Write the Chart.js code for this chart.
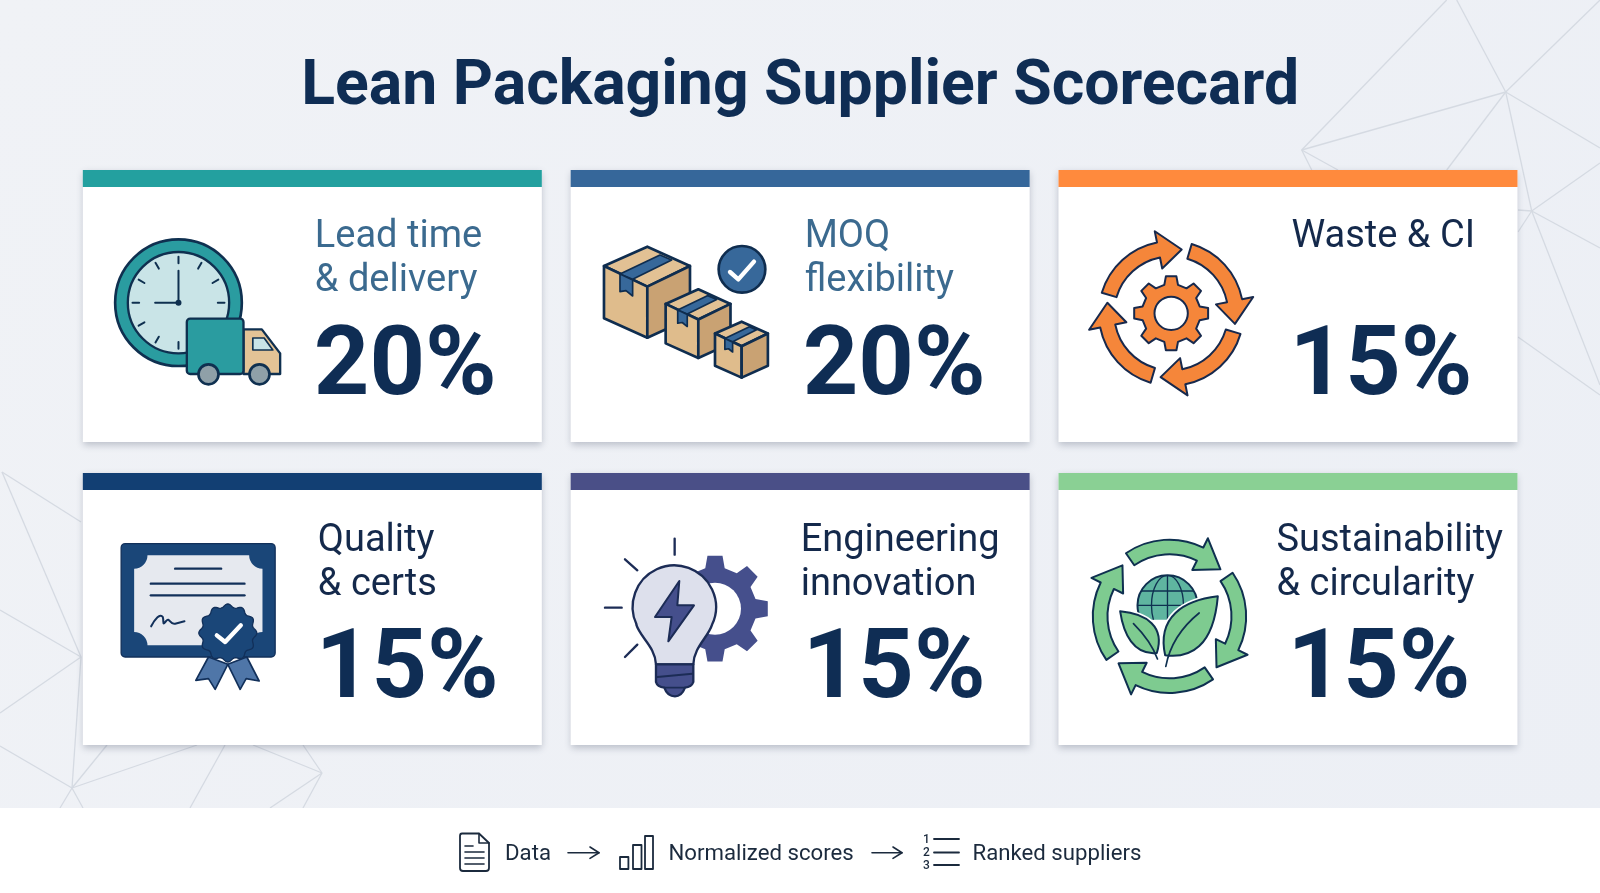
<!DOCTYPE html>
<html><head><meta charset="utf-8">
<style>html,body{margin:0;padding:0;background:#eef1f6;overflow:hidden}canvas{display:block}</style>
<script src="https://cdn.jsdelivr.net/npm/chart.js@4/dist/chart.umd.min.js"></script>
</head><body><canvas id="c" width="1600" height="893"></canvas>
<script>
const chartTitle = "Lean Packaging Supplier Scorecard";
const categories = ["Lead time & delivery","MOQ flexibility","Waste & CI","Quality & certs","Engineering innovation","Sustainability & circularity"];
const weights = [20,20,15,15,15,15];
const labelLines = [["Lead time","& delivery"],["MOQ","flexibility"],["Waste & CI"],["Quality","& certs"],["Engineering","innovation"],["Sustainability","& circularity"]];
const columns = ["left","middle","right","left","middle","right"];
const rows = ["top","top","top","bottom","bottom","bottom"];
const pipelineSteps = ["Data","Normalized scores","Ranked suppliers"];

const accent = ["#23a09f","#36679a","#ff8a3d","#123f73","#4a4f87","#8ad094"];
const labelColor = ["#3b6a8f","#3b6a8f","#14294b","#14294b","#14294b","#14294b"];
const labelX = [232,234,233,235,230,218];
const labelY = [77,77,77,77.6,77.6,77.6];
const pctX = [231,232,231,233,232,229];
const NAVY = "#0f2d54", CARD_W = 459, CARD_H = 272, BAR_H = 17;
const iconOrigin = [[-68,-60],[-32,-60],[-25,-60],[-68,-38],[-32,-38],[-25,-38]];

const bgLines = [
 [1505.7,92,1301.7,150],[1301.7,150,1446.7,0],[1505.7,92,1456.7,0],[1505.7,92,1600,0],[1505.7,92,1446.7,170],
 [1505.7,92,1531.7,211],[1505.7,92,1600,148],[1301.7,150,1311.7,170],[1301.7,150,1338,170],
 [1531.7,211,1600,163],[1531.7,211,1600,248],[1531.7,211,1600,385],[1531.7,211,1518,210],[1531.7,211,1518,232],[1518,337,1600,395],
 [2,472,81,522],[2,472,81,657],[81,657,0,610],[81,657,0,713],[81,657,72,788],[72,788,0,746],[72,788,107,745],[72,788,197,745],
 [72,788,60,808],[72,788,83,808],[322,773,253,745],[322,773,303,745],[322,773,270,808],[322,773,303,808],[225,745,190,808]
];

function polar(cx,cy,r,a){return [cx+r*Math.cos(a),cy+r*Math.sin(a)];}
function poly(c,pts,fill,stroke,lw){c.beginPath();pts.forEach((p,i)=>i?c.lineTo(p[0],p[1]):c.moveTo(p[0],p[1]));c.closePath();
 if(fill){c.fillStyle=fill;c.fill();} if(stroke){c.strokeStyle=stroke;c.lineWidth=lw;c.stroke();}}
function line(c,pts,stroke,lw){c.beginPath();pts.forEach((p,i)=>i?c.lineTo(p[0],p[1]):c.moveTo(p[0],p[1]));c.strokeStyle=stroke;c.lineWidth=lw;c.stroke();}
function circle(c,x,y,r,fill,stroke,lw){c.beginPath();c.arc(x,y,r,0,Math.PI*2);if(fill){c.fillStyle=fill;c.fill();}if(stroke){c.strokeStyle=stroke;c.lineWidth=lw;c.stroke();}}
function rrect(c,x0,y0,x1,y1,r,fill,stroke,lw){c.beginPath();c.roundRect(x0,y0,x1-x0,y1-y0,r);if(fill){c.fillStyle=fill;c.fill();}if(stroke){c.strokeStyle=stroke;c.lineWidth=lw;c.stroke();}}
function gearPath(c,cx,cy,ro,ri,n,rot){const s=Math.PI*2/n;c.beginPath();
 for(let i=0;i<n;i++){const a=rot+i*s;[[ri,-.3],[ro,-.18],[ro,.18],[ri,.3]].forEach((q,j)=>{const p=polar(cx,cy,q[0],a+q[1]*s);(i===0&&j===0)?c.moveTo(p[0],p[1]):c.lineTo(p[0],p[1]);});}
 c.closePath();}
function arrowArc(c,cx,cy,r,hw,hh,a0,a1,a2,fill,stroke,lw){c.beginPath();c.arc(cx,cy,r+hw,a0,a1);
 let p=polar(cx,cy,r+hh,a1);c.lineTo(p[0],p[1]);p=polar(cx,cy,r,a2);c.lineTo(p[0],p[1]);p=polar(cx,cy,r-hh,a1);c.lineTo(p[0],p[1]);
 c.arc(cx,cy,r-hw,a1,a0,true);c.closePath();c.fillStyle=fill;c.fill();c.strokeStyle=stroke;c.lineWidth=lw;c.stroke();}
const deg=d=>d*Math.PI/180;

function iconClock(c){
 const teal="#2a9ca0",face="#c9e4e7",ink="#0f3050";
 circle(c,355,458,190,teal,ink,8);circle(c,355,458,152,face,ink,7);
 for(let i=0;i<12;i++){const a=i*Math.PI/6;const p=polar(355,458,118,a),q=polar(355,458,138,a);line(c,[p,q],ink,6);}
 line(c,[[355,362],[355,458]],ink,6);line(c,[[285,458],[355,458]],ink,6);circle(c,355,458,9,ink);
 poly(c,[[550,538],[605,538],[660,610],[660,672],[550,672]],"#e3c396",ink,7);
 poly(c,[[578,564],[612,564],[638,600],[578,600]],"#c9e4e7",ink,5);
 rrect(c,380,506,550,672,10,teal,ink,7);
 circle(c,445,673,30,"#8fa0a8",ink,8);circle(c,598,673,30,"#8fa0a8",ink,8);
}
function box(c,x,y,s){
 const ink="#0f2d4f",tape="#37689a";
 const P=(a,b)=>[x+a*s,y+b*s];
 poly(c,[P(0,0),P(-130,58),P(0,120),P(128,58)],"#e2c194",ink,8);
 poly(c,[P(-130,58),P(0,120),P(0,273),P(-130,215)],"#dfbc8c",ink,8);
 poly(c,[P(0,120),P(128,58),P(128,215),P(0,273)],"#c9a273",ink,8);
 poly(c,[P(-82,82),P(38,25),P(73,40),P(-44,98)],tape,ink,5);
 poly(c,[P(-82,82),P(-44,100),P(-44,148),P(-64,132),P(-82,135)],tape,ink,5);
}
function iconBoxes(c){
 box(c,262,290,1);box(c,415,418,.754);box(c,545,515,.615);
 circle(c,546,358,70,"#37689a","#0f2d4f",8);
 line(c,[[510,366],[535,388],[582,335]],"#fff",13);
}
function iconCycle(c){
 const ink="#17294d",o="#f5863a",cx=363,cy=490;
 for(let i=0;i<4;i++){const d=i*90;arrowArc(c,cx,cy,194,23,57,deg(196.5+d),deg(258.7+d),deg(279.4+d),o,ink,6);}
 gearPath(c,cx,cy,112,88,8,deg(-90));c.fillStyle=o;c.fill();c.strokeStyle=ink;c.lineWidth=6;c.stroke();
 circle(c,cx,cy,50,"#fff",ink,6);
}
function iconCert(c){
 const ink="#12305a",blue="#1a4678";
 rrect(c,183,250,645,590,12,blue,ink,4);
 c.beginPath();c.moveTo(262,285);c.lineTo(567,285);c.arc(607,285,40,Math.PI,Math.PI/2,true);c.lineTo(607,515);c.arc(607,555,40,-Math.PI/2,Math.PI,true);
 c.lineTo(262,555);c.arc(222,555,40,0,-Math.PI/2,true);c.lineTo(222,325);c.arc(222,285,40,Math.PI/2,0,true);c.closePath();c.fillStyle="#e6e9ef";c.fill();
 line(c,[[345,325],[483,325]],ink,7);line(c,[[272,370],[553,370]],ink,7);line(c,[[272,405],[553,405]],ink,7);
 c.beginPath();c.moveTo(273,498);c.bezierCurveTo(285,475,300,458,308,470);c.bezierCurveTo(312,485,305,498,318,482);c.bezierCurveTo(328,468,330,495,345,490);c.lineTo(373,483);c.strokeStyle=ink;c.lineWidth=6;c.stroke();
 poly(c,[[445,590],[407,660],[445,655],[465,687],[503,612]],"#4f76a8",ink,5);
 poly(c,[[503,612],[540,687],[558,655],[597,662],[560,590]],"#4f76a8",ink,5);
 c.beginPath();for(let i=0;i<=144;i++){const a=i/144*Math.PI*2;const r=82+5*Math.cos(12*a);const p=polar(503,518,r,a);i?c.lineTo(p[0],p[1]):c.moveTo(p[0],p[1]);}c.closePath();c.fillStyle=blue;c.fill();c.strokeStyle=ink;c.lineWidth=4;c.stroke();
 line(c,[[470,525],[495,545],[542,495]],"#fff",13);
}
function iconBulb(c){
 const ink="#1c2c56",v="#454f8c",lt="#dde0ec";
 gearPath(c,465,445,160,125,8,deg(0));c.fillStyle=v;c.fill();
 circle(c,465,445,78,"#fff");
 c.beginPath();c.arc(343,440,125,deg(155),deg(25));c.bezierCurveTo(445,530,402,560,400,612);c.lineTo(288,612);c.bezierCurveTo(286,560,240,530,229,493);c.closePath();c.fillStyle=lt;c.fill();c.strokeStyle=ink;c.lineWidth=7;c.stroke();
 c.beginPath();c.moveTo(288,612);c.lineTo(400,612);c.lineTo(400,665);c.quadraticCurveTo(395,680,375,682);c.quadraticCurveTo(365,708,345,708);c.quadraticCurveTo(322,708,313,682);c.quadraticCurveTo(292,680,288,665);c.closePath();c.fillStyle=v;c.fill();c.strokeStyle=ink;c.lineWidth=7;c.stroke();
 line(c,[[292,650],[397,640]],ink,6);line(c,[[313,682],[375,682]],ink,5);
 poly(c,[[358,362],[285,470],[335,470],[325,543],[402,435],[352,435]],v,ink,6);
 [[[344,235],[344,283]],[[195,297],[232,330]],[[135,442],[185,442]],[[195,590],[232,553]]].forEach(s=>line(c,s,ink,7));
}
function iconLeaf(c){
 const ink="#0f3050",g="#7ecb90",cx=358,cy=468;
 for(let i=0;i<4;i++){const d=i*90;arrowArc(c,cx,cy,208,22,53,deg(235.4+d),deg(296.2+d),deg(317.3+d),g,ink,6);}
 c.save();c.beginPath();c.rect(240,340,230,138);c.clip();
 c.beginPath();c.arc(352,435,90,0,Math.PI*2);c.fillStyle="#5fb5a0";c.fill();
 c.clip();
 line(c,[[352,345],[352,525]],ink,4);line(c,[[262,435],[442,435]],ink,4);
 c.strokeStyle=ink;c.lineWidth=4;c.beginPath();c.ellipse(352,435,48,90,0,0,Math.PI*2);c.stroke();
 line(c,[[270,392],[434,392]],ink,4);c.restore();
 c.save();c.beginPath();c.rect(240,340,230,138);c.clip();circle(c,352,435,90,null,ink,6);c.restore();
 const right=()=>{c.beginPath();c.moveTo(345,585);c.bezierCurveTo(320,470,400,420,503,408);c.bezierCurveTo(490,560,420,595,345,585);c.closePath();};
 const left=()=>{c.beginPath();c.moveTo(320,578);c.bezierCurveTo(250,585,220,520,210,453);c.bezierCurveTo(290,460,345,500,320,578);c.closePath();};
 left();c.strokeStyle="#fff";c.lineWidth=16;c.stroke();right();c.stroke();
 left();c.fillStyle=g;c.fill();c.strokeStyle=ink;c.lineWidth=6;c.stroke();
 right();c.fillStyle=g;c.fill();c.stroke();
 c.beginPath();c.moveTo(347,618);c.bezierCurveTo(360,550,395,500,447,458);c.lineWidth=5;c.stroke();
 c.beginPath();c.moveTo(322,596);c.bezierCurveTo(305,550,280,520,250,490);c.stroke();
}
const icons=[iconClock,iconBoxes,iconCycle,iconCert,iconBulb,iconLeaf];

function drawFooter(c){
 const ink="#1b2a3d";
 c.fillStyle="#fff";c.fillRect(0,808,1600,85);
 c.lineJoin="round";c.lineCap="round";
 c.beginPath();c.moveTo(479,833.5);c.lineTo(462,833.5);c.quadraticCurveTo(460,833.5,460,836);c.lineTo(460,868);c.quadraticCurveTo(460,871,463,871);c.lineTo(486,871);c.quadraticCurveTo(489,871,489,868);c.lineTo(489,843);c.closePath();c.strokeStyle=ink;c.lineWidth=1.8;c.stroke();
 line(c,[[479,833.5],[479,843],[489,843]],ink,1.6);
 line(c,[[465,846],[473,846]],ink,1.6);[852,858,864].forEach(y=>line(c,[[465,y],[484,y]],ink,1.6));
 const arrow=(x0,x1)=>{line(c,[[x0,852.7],[x1,852.7]],ink,1.6);line(c,[[x1-9,847],[x1,852.7],[x1-9,858.4]],ink,1.6);};
 arrow(568,599);arrow(872,902);
 [[620,857,628.4],[633,845,641.5],[645,836,653]].forEach(b=>{c.strokeStyle=ink;c.lineWidth=1.8;c.strokeRect(b[0],b[1],b[2]-b[0],869-b[1]);});
 [839,852.5,865].forEach((y,i)=>{line(c,[[934,y],[959,y]],ink,1.8);c.font="500 12px Roboto";c.fillStyle=ink;c.textAlign="center";c.textBaseline="middle";c.fillText(String(i+1),926.5,y+.5);});
 c.font="22.2px Roboto";c.fillStyle=ink;c.textAlign="left";c.textBaseline="alphabetic";
 [505,668.5,972.5].forEach((x,i)=>c.fillText(pipelineSteps[i],x,860));
}

const scorecard={
 id:"scorecard",
 beforeDraw(chart){
  const c=chart.ctx;c.save();
  const g=c.createLinearGradient(0,0,1600,893);g.addColorStop(0,"#f0f2f6");g.addColorStop(1,"#ecEff5");
  c.fillStyle=g;c.fillRect(0,0,1600,893);
  c.strokeStyle="#d5dae2";c.lineWidth=1.3;
  bgLines.forEach(l=>{c.beginPath();c.moveTo(l[0],l[1]);c.lineTo(l[2],l[3]);c.stroke();});
  drawFooter(c);
  c.restore();
 },
 afterDatasetsDraw(chart){
  const c=chart.ctx;
  chart.getDatasetMeta(0).data.forEach((el,i)=>{
   const L=el.x-CARD_W/2,T=el.y-CARD_H/2;
   c.save();
   c.shadowColor="rgba(50,60,85,.28)";c.shadowBlur=7;c.shadowOffsetY=3;
   c.fillStyle="#fff";c.fillRect(L,T,CARD_W,CARD_H);
   c.restore();c.save();
   c.fillStyle=accent[i];c.fillRect(L,T,CARD_W,BAR_H);
   c.textAlign="left";c.textBaseline="alphabetic";
   c.font="38px Roboto";c.fillStyle=labelColor[i];
   labelLines[i].forEach((t,k)=>c.fillText(t,L+labelX[i],T+labelY[i]+k*44));
   c.font="bold 97px Roboto";c.fillStyle=NAVY;
   c.fillText(weights[i]+"%",L+pctX[i],T+223.5);
   c.translate(L+iconOrigin[i][0]/3,T+iconOrigin[i][1]/3);c.scale(1/3,1/3);
   c.lineJoin="round";c.lineCap="round";
   icons[i](c);
   c.restore();
  });
 }
};

new Chart(document.getElementById("c"),{
 type:"scatter",
 data:{datasets:[{label:"Weight (%)",data:categories.map((n,i)=>({x:columns[i],y:rows[i],name:n,weight:weights[i]})),pointRadius:0,pointHoverRadius:0}]},
 options:{
  responsive:false,animation:false,devicePixelRatio:1,
  layout:{padding:{left:68.4,right:68.1,top:0,bottom:132.5}},
  plugins:{legend:{display:false},tooltip:{enabled:false},
   title:{display:true,text:chartTitle,color:NAVY,font:{family:"Roboto",size:62.5,weight:"bold",lineHeight:1.2},padding:{top:51,bottom:28.5}}},
  scales:{
   x:{type:"category",labels:["left","middle","right"],offset:true,display:false},
   y:{type:"category",labels:["top","bottom"],offset:true,display:false}
  }
 },
 plugins:[scorecard]
});
</script></body></html>
